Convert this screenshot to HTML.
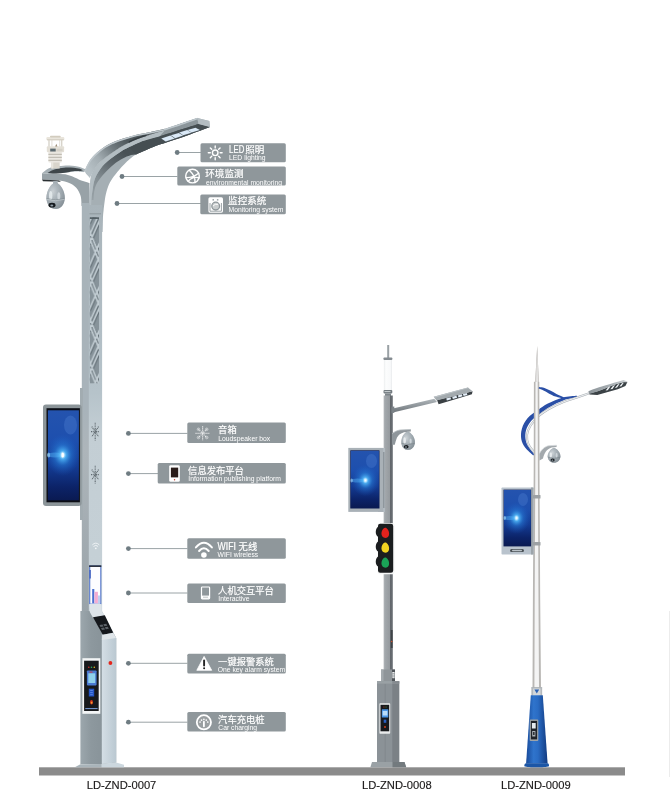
<!DOCTYPE html>
<html lang="zh">
<head>
<meta charset="utf-8">
<title>LD-ZND smart poles</title>
<style>
html,body{margin:0;padding:0;background:#fff}
#stage{position:relative;width:670px;height:800px;overflow:hidden;background:#fff}
svg{position:absolute;left:0;top:0;display:block}
svg{will-change:transform}
text{font-family:"Liberation Sans","Noto Sans CJK SC",sans-serif}
.t{font-size:9.3px;fill:#fff;stroke:#fff;stroke-width:0.2}
.s{font-size:6.77px;fill:#fff}
.m{font-size:11.2px;fill:#1c1a1a;stroke:#1c1a1a;stroke-width:0.15}
.bx{fill:#8f979b}
.ln{stroke:#9aa3a6;stroke-width:1;fill:none}
.dt{fill:#6f7c82}
</style>
</head>
<body>
<div id="stage">
<svg width="670" height="800" viewBox="0 0 670 800">
<defs>
<linearGradient id="scrv" x1="0" y1="0" x2="0" y2="1">
<stop offset="0" stop-color="#2453ae"/><stop offset="0.35" stop-color="#1d4fae"/><stop offset="0.62" stop-color="#143c94"/><stop offset="0.85" stop-color="#0c2368"/><stop offset="1" stop-color="#0a1a52"/>
</linearGradient>
<radialGradient id="glow" cx="0.5" cy="0.5" r="0.5">
<stop offset="0" stop-color="#ffffff"/><stop offset="0.09" stop-color="#bfe8ff"/><stop offset="0.2" stop-color="#4fb4f6" stop-opacity="0.9"/><stop offset="0.5" stop-color="#2a86e0" stop-opacity="0.45"/><stop offset="1" stop-color="#1c5ec4" stop-opacity="0"/>
</radialGradient>
</defs>

<!-- GROUND -->
<g id="ground">
<rect x="39" y="767.3" width="586" height="8.2" fill="#8b8b8b"/>
<rect x="669" y="611" width="1" height="166" fill="#ececec"/>
</g>

<g id="pole1">
<defs>
<linearGradient id="p1bd" x1="90" y1="170" x2="128" y2="142" gradientUnits="userSpaceOnUse">
<stop offset="0" stop-color="#b6c0c5"/><stop offset="0.3" stop-color="#a3adb2"/><stop offset="0.65" stop-color="#717b80"/><stop offset="1" stop-color="#4f585c"/>
</linearGradient>
<linearGradient id="p1dw" x1="93" y1="200" x2="128" y2="155" gradientUnits="userSpaceOnUse">
<stop offset="0" stop-color="#98a2a7"/><stop offset="0.35" stop-color="#838d92"/><stop offset="0.7" stop-color="#5d666b"/><stop offset="1" stop-color="#485155"/>
</linearGradient>
<radialGradient id="dome" cx="35%" cy="35%" r="75%">
<stop offset="0" stop-color="#f2f5f7"/><stop offset="0.3" stop-color="#c3cbd0"/><stop offset="0.7" stop-color="#98a2a8"/><stop offset="1" stop-color="#727c83"/>
</radialGradient>
</defs>
<path d="M42,173.3 L53.7,173.8 L65.2,174.3 C69,175 72,176.3 74.6,177.5 C78,179 81,180.5 82.9,181.1 L89.5,183 L89.5,206 L81.5,206 C81.5,199 81,196 79.8,193.7 C78.5,190.5 77,188 74.6,186.3 C72,184 70,183 67.3,182.2 C64,181.2 61,180.7 58.9,180.6 L42,179.6 Z" fill="#98a2a7"/>
<path d="M42,179.4 L58.9,180.4 L61,181.8 L43,181.3 Z" fill="#2b3033"/>
<path d="M42,173.3 C44,171.5 46,169.8 48.4,168.6 C52,167 55,166.3 58.9,166 C62,165.7 66,165.3 69.3,165.4 C73,165.6 77,166.2 79.8,167 L86,169.4 L84,172.2 L79.8,171.7 C76,171.5 72,171.7 69.3,172.2 C64,173 58,173.5 53.7,173.8 Z" fill="#a7b1b6"/>
<path d="M47.5,172.9 C52,169.6 58,168 64.1,167.7 C70,167.4 75,167.9 79.8,168.8 L83,170.2 L79.8,171.2 C75,170.9 72,171.4 69.3,171.9 C63,172.9 57,173.5 52.6,173.6 Z" fill="#3e464a"/>
<path d="M89.3,205 C89.3,203.3 89.4,198.2 89.5,195 C89.6,191.8 89.7,189.4 90,186 C90.3,182.6 90.3,178 91.6,174.4 C92.9,170.8 95.4,167.5 97.9,164.5 C100.5,161.5 103.9,158.9 106.9,156.5 C109.9,154.1 112.8,152.1 115.8,150.2 C118.8,148.2 121.8,146.4 124.8,144.8 C127.8,143.2 129.9,142 133.7,140.4 C137.5,138.8 142.6,137.1 147.8,135.4 C153,133.7 162.1,131.1 165,130.2 L179.4,124.1 L197.3,117.9 L209.3,121.1 L209.9,127.1 L204.5,128.9 C200.4,130.4 187.5,135.3 180,137.9 C172.5,140.5 165.1,142.6 159.7,144.5 C154.3,146.4 151.8,147.6 147.8,149.3 C143.8,151 139.7,152.1 135.8,154.6 C131.9,157.1 127.7,160.9 124.3,164.2 C120.9,167.5 117.8,171.3 115.4,174.4 C113,177.5 111.5,179.2 109.9,182.5 C108.3,185.8 106.8,189.9 105.8,194.5 C104.8,199.1 104.1,206.4 103.6,210.2 C103.1,213.9 103.1,215.9 103,217 L89.3,217 Z" fill="#a5afb4"/>
<path d="M147.8,135.4 L165,130.2 L165,128.8 L197.3,117.9 L198.5,124.1 C194.6,125.3 181.5,129.5 175,131.5 C168.5,133.5 164.2,134.9 159.7,136.2 C155.2,137.5 149.8,138.9 147.8,139.5 Z" fill="#8b959a"/>
<path d="M91.4,200 C91.6,198.3 92,193.7 92.6,190 C93.2,186.3 93.6,181.9 95.2,178 C96.8,174.1 99.7,169.6 102.4,166.3 C105.1,163 108.3,160.7 111.3,158.3 C114.3,155.9 117.3,153.9 120.3,152 C123.3,150.1 125.9,148.7 129.2,147.1 C132.5,145.5 136.9,143.5 140,142.2 C143.1,140.9 144.5,140.5 147.8,139.5 C151.1,138.5 155.2,137.5 159.7,136.2 C164.2,134.9 168.5,133.5 175,131.5 C181.5,129.5 194.6,125.3 198.5,124.1 L209.9,127.1 L204.5,128.9 C200.4,130.4 187.5,135.3 180,137.9 C172.5,140.5 165.1,142.6 159.7,144.5 C154.3,146.4 151.8,147.6 147.8,149.3 C143.8,151 137.8,153.7 135.8,154.6 L131,154.9 C130,155.3 127.3,156.1 124.8,157.4 C122.3,158.7 118.8,160.6 115.8,162.8 C112.8,165 109.9,167.7 106.9,170.8 C103.9,173.9 100,178.4 97.9,181.6 C95.8,184.8 95.2,186.9 94.5,190 C93.8,193.1 93.7,198.3 93.5,200 Z" fill="url(#p1dw)"/>
<path d="M129.2,147.1 C131,146.3 136.9,143.5 140,142.2 C143.1,140.9 144.5,140.5 147.8,139.5 C151.1,138.5 155.2,137.5 159.7,136.2 C164.2,134.9 168.5,133.5 175,131.5 C181.5,129.5 194.6,125.3 198.5,124.1 L209.9,127.1 L204.5,128.9 C200.4,130.4 187.5,135.3 180,137.9 C172.5,140.5 165.1,142.6 159.7,144.5 C154.3,146.4 151.8,147.6 147.8,149.3 C143.8,151 137.8,153.7 135.8,154.6 L129.2,147.1 Z" fill="#454e52"/>
<path d="M89.3,205 C89.3,203.3 89.4,198.2 89.5,195 C89.6,191.8 89.7,189.4 90,186 C90.3,182.6 90.3,178 91.6,174.4 C92.9,170.8 95.4,167.5 97.9,164.5 C100.5,161.5 103.9,158.9 106.9,156.5 C109.9,154.1 112.8,152.1 115.8,150.2 C118.8,148.2 121.8,146.4 124.8,144.8 C127.8,143.2 129.9,142 133.7,140.4 C137.5,138.8 142.6,137.1 147.8,135.4 C153,133.7 162.1,131.1 165,130.2 L159.7,136.2 C157.7,136.8 151.1,138.5 147.8,139.5 C144.5,140.5 143.1,140.9 140,142.2 C136.9,143.5 132.5,145.5 129.2,147.1 C125.9,148.7 123.3,150.1 120.3,152 C117.3,153.9 114.3,155.9 111.3,158.3 C108.3,160.7 105.1,163 102.4,166.3 C99.7,169.6 96.8,174.1 95.2,178 C93.6,181.9 93.2,186.3 92.6,190 C92,193.7 91.6,196.2 91.4,200 C91.2,203.8 91.2,210.8 91.2,213 Z" fill="#b3bdc2"/>
<path d="M84.5,170.8 C85.5,168.9 88.2,162.6 90.7,159.2 C93.2,155.8 96.3,152.9 99.7,150.2 C103.1,147.5 107.1,145 111.3,143 C115.5,141 120.7,139.4 124.8,138.1 C128.9,136.8 132,135.8 135.8,134.9 C139.6,134 142.9,133.6 147.8,132.6 C152.7,131.6 162.1,129.4 165,128.8 L165,130.2 C162.1,131.1 153,133.7 147.8,135.4 C142.6,137.1 137.5,138.8 133.7,140.4 C129.9,142 127.8,143.2 124.8,144.8 C121.8,146.4 118.8,148.2 115.8,150.2 C112.8,152.1 109.9,154.1 106.9,156.5 C103.9,158.9 100.5,161.5 97.9,164.5 C95.4,167.5 92.6,172.8 91.6,174.4 L89.5,178.5 L86,174 Z" fill="url(#p1bd)"/>
<path d="M84.9,171.4 C85.9,169.5 88.6,163.2 91.1,159.8 C93.6,156.4 96.7,153.5 100.1,150.8 C103.5,148.1 107.5,145.6 111.7,143.6 C115.9,141.6 121.1,140 125.2,138.7 C129.3,137.3 132.4,136.4 136.2,135.5 C140,134.6 143.3,134.2 148.2,133.2 C153.1,132.2 160.1,130.8 165.4,129.4 C170.7,128 174.4,126.5 179.8,124.7 C185.2,122.9 194.7,119.5 197.7,118.5" fill="none" stroke="#bec7cc" stroke-width="1.5"/>
<path d="M128.7,141.3 C133,139 138,137 146.2,134.7 L146.5,136 C140,138 134,140.3 128.7,143 Z" fill="#343c40"/>
<path d="M197.3,117.9 L209.3,121.1 L209.9,127.1 L198.5,124.1 Z" fill="#b4bdc2"/>
<g fill="#d9e8f6">
<path d="M161.3,138.4 L170.4,135.6 L174.8,138.4 L165.7,141.4 Z"/>
<path d="M170.8,135.3 L178.8,132.9 L183.2,135.4 L175.2,138.3 Z"/>
<path d="M179.2,132.6 L187.2,130.1 L191.5,132.7 L183.2,135.3 Z"/>
<path d="M187.5,130 L195.5,127.7 L199.9,130.1 L191.6,132.6 Z"/>
</g>
<path d="M66.2,173.8 C71,172.3 76,171.6 79.8,171.7 L84,172.2 C86.5,174 88.5,176 90.2,178.5 L89.5,182.8 C85,180.8 82,178.7 79.8,177.5 C77,176.2 75,175.6 72.5,175.4 C70,174.7 68,174.2 66.2,173.8 Z" fill="#fff"/>
<!-- pole shaft -->
<defs>
<linearGradient id="p1L" x1="0" y1="205" x2="0" y2="613" gradientUnits="userSpaceOnUse"><stop offset="0" stop-color="#a8b3b9"/><stop offset="0.5" stop-color="#a8b3ba"/><stop offset="0.6" stop-color="#adb5ba"/><stop offset="1" stop-color="#99a3a9"/></linearGradient>
<linearGradient id="p1R" x1="0" y1="205" x2="0" y2="613" gradientUnits="userSpaceOnUse"><stop offset="0" stop-color="#a9b4ba"/><stop offset="0.3" stop-color="#b2bec5"/><stop offset="0.46" stop-color="#b6c3ca"/><stop offset="0.56" stop-color="#c3ced4"/><stop offset="1" stop-color="#c6d1d7"/></linearGradient>
</defs>
<rect x="81.8" y="203" width="7.5" height="410" fill="url(#p1L)"/>
<rect x="88.8" y="205" width="13.3" height="408" fill="url(#p1R)"/>
<path d="M103,217 L102,217 L102,232 L102.6,232 Z" fill="#a9b4ba"/>
<rect x="89.5" y="213.3" width="11.5" height="1" fill="#8d979c"/>

<!-- lattice -->
<defs>
<pattern id="lat" x="89.8" y="217.3" width="9.2" height="43.5" patternUnits="userSpaceOnUse">
<rect width="9.2" height="43.5" fill="#87939a"/>
<g stroke="#5f6b72" stroke-width="1.3" fill="none">
<path d="M11,-90.7 L0.4,-67.2 M11,-83.2 L0.4,-59.7 M11,-60.7 L0.4,-37.2 M0.4,-73.7 L11,-48.2 M0.4,-66.2 L11,-40.7 M11,-47.2 L0.4,-23.7 M11,-39.7 L0.4,-16.2 M11,-17.2 L0.4,6.3 M0.4,-30.2 L11,-4.7 M0.4,-22.7 L11,2.8 M11,-3.7 L0.4,19.8 M11,3.8 L0.4,27.3 M11,26.3 L0.4,49.8 M0.4,13.3 L11,38.8 M0.4,20.8 L11,46.3 M11,39.8 L0.4,63.3 M11,47.3 L0.4,70.8 M11,69.8 L0.4,93.3 M0.4,56.8 L11,82.3 M0.4,64.3 L11,89.8"/>
</g>
<g stroke="#c1ccd2" stroke-width="1.7" fill="none">
<path d="M9.9,-91.5 L-0.7,-68 M9.9,-84 L-0.7,-60.5 M9.9,-61.5 L-0.7,-38 M-0.7,-74.5 L9.9,-49 M-0.7,-67 L9.9,-41.5 M9.9,-48 L-0.7,-24.5 M9.9,-40.5 L-0.7,-17 M9.9,-18 L-0.7,5.5 M-0.7,-31 L9.9,-5.5 M-0.7,-23.5 L9.9,2 M9.9,-4.5 L-0.7,19 M9.9,3 L-0.7,26.5 M9.9,25.5 L-0.7,49 M-0.7,12.5 L9.9,38 M-0.7,20 L9.9,45.5 M9.9,39 L-0.7,62.5 M9.9,46.5 L-0.7,70 M9.9,69 L-0.7,92.5 M-0.7,56 L9.9,81.5 M-0.7,63.5 L9.9,89"/>
</g>
</pattern>
</defs>
<rect x="89.8" y="217.3" width="9.2" height="166" fill="url(#lat)"/>
<rect x="89.8" y="217.3" width="9.2" height="1.6" fill="#4f5a60"/>


<!-- screen bracket + screen -->
<defs>
</defs>
<rect x="80" y="388" width="3" height="132" fill="#a2acb1"/>
<rect x="43" y="404.4" width="38.6" height="101.6" rx="3" fill="#8c9599"/>
<rect x="46.5" y="408.2" width="33.4" height="94.1" fill="#0b0d14"/>
<rect x="47.9" y="410.3" width="31" height="90" fill="url(#scrv)"/>
<ellipse cx="70.5" cy="425" rx="6.5" ry="9.5" fill="#5a8cdc" fill-opacity="0.3"/>
<ellipse cx="62.7" cy="455" rx="17" ry="21" fill="url(#glow)"/>
<ellipse cx="55" cy="455" rx="8" ry="2.4" fill="#5cc0ff" fill-opacity="0.38"/>
<ellipse cx="48.6" cy="455" rx="1.5" ry="2.5" fill="#a8e0ff" fill-opacity="0.6"/>
<ellipse cx="62.7" cy="455" rx="1.3" ry="2.6" fill="#fff"/>

<!-- speaker dots, wifi mark -->
<g stroke="#4f585e" stroke-opacity="0.85" fill="none" stroke-dasharray="1 0.7" stroke-width="1.1">
<path d="M95.2,422.8 V440.4 M91,431.6 H99.4 M91.8,426.6 L98.6,436.6 M98.6,426.6 L91.8,436.6"/>
<path d="M95.2,465.8 V483.4 M91,474.6 H99.4 M91.8,469.6 L98.6,479.6 M98.6,469.6 L91.8,479.6"/>
</g>
<g stroke="#f2f5f7" stroke-width="0.9" fill="none" stroke-linecap="round">
<path d="M92.6,544.6 Q95.8,541.4 99,544.6 M93.8,546.2 Q95.8,544.2 97.8,546.2"/>
</g>
<circle cx="95.8" cy="548.3" r="0.9" fill="#f2f5f7"/>

<!-- interactive screen -->
<rect x="89.1" y="565.4" width="12.2" height="39.2" fill="#5f7fd0"/>
<rect x="90.3" y="566.6" width="9.9" height="37" fill="#fdfdff"/>
<rect x="89.1" y="565.4" width="12.2" height="1.5" fill="#22262e"/>
<rect x="89.4" y="570" width="1.4" height="8.5" fill="#4060c0"/>
<rect x="92.2" y="589" width="2.1" height="14.3" fill="#4a70d0"/>
<rect x="94.5" y="591.8" width="3.4" height="11.5" fill="#f2acd2"/>
<rect x="98.1" y="595.5" width="1.8" height="7.8" fill="#b9c9f0"/>

<!-- lower body -->
<defs>
<linearGradient id="p1lf" x1="80.4" y1="0" x2="101.8" y2="0" gradientUnits="userSpaceOnUse"><stop offset="0" stop-color="#9ca7ad"/><stop offset="0.5" stop-color="#8d989e"/><stop offset="1" stop-color="#89949a"/></linearGradient>
<linearGradient id="p1rf" x1="101.8" y1="0" x2="116.2" y2="0" gradientUnits="userSpaceOnUse"><stop offset="0" stop-color="#d4dee5"/><stop offset="1" stop-color="#bac8d1"/></linearGradient>
</defs>
<path d="M80.4,611 L101.8,611 L116.2,638 L116.2,762.5 L101.8,764 L80.4,764 Z" fill="url(#p1lf)"/>
<path d="M101.8,634 L116.2,638 L116.2,762.5 L101.8,764 Z" fill="url(#p1rf)"/>
<path d="M89.2,604 L101.6,604 L101.8,611 L104.8,615.5 L93,617.8 L89.8,612 Z" fill="#dde4e9"/>
<!-- keyboard -->
<path d="M93,617.3 L104.8,615.2 L113.2,632.8 L102.8,634.8 Z" fill="#15181c"/>
<path d="M99.5,625 l3,-0.5 l1,2 l-3,0.5 z M103.3,624.3 l3,-0.5 l1,2 l-3,0.5 z M101,628 l3,-0.5 l1,2 l-3,0.5 z M104.8,627.3 l3,-0.5 l1,2 l-3,0.5 z" fill="#5a6066"/>
<path d="M102.8,634.8 L113.2,632.8 L116.2,638 L101.8,640 Z" fill="#dfe5e9"/>
<!-- red button -->
<circle cx="110.4" cy="663" r="1.9" fill="#e3261c"/>
<!-- charger panel -->
<rect x="82.4" y="658.2" width="17.9" height="55.6" fill="#f3f5f6"/>
<rect x="84.1" y="660.7" width="14.6" height="50.3" fill="#17191c"/>
<circle cx="88.8" cy="667.3" r="0.8" fill="#d8302a"/><circle cx="91.5" cy="667.3" r="0.8" fill="#2fae5e"/><circle cx="94.3" cy="667.3" r="0.8" fill="#e8b820"/>
<rect x="86.9" y="670.5" width="9.7" height="14.9" rx="0.8" fill="#4a7ad2"/>
<rect x="88.3" y="673.3" width="6.9" height="9.7" fill="#8fd0ea"/>
<rect x="89.5" y="671.6" width="3" height="1" fill="#d8403a"/>
<rect x="88.8" y="688.7" width="5.4" height="7.8" fill="#2354c4"/>
<path d="M90.2,690.5 h2.6 M90.2,692.6 h2.6 M90.2,694.7 h2.6" stroke="#6d9cf0" stroke-width="0.7"/>
<ellipse cx="91.5" cy="702.3" rx="1.5" ry="2.3" fill="#d63a1e"/>
<ellipse cx="91.7" cy="702.8" rx="0.6" ry="1" fill="#f0c030"/>
<rect x="85.3" y="708" width="12.3" height="1.1" fill="#6f8fc4"/>
<!-- base plate -->
<path d="M74.8,767.3 L80.4,764.3 L101.8,764 L101.8,767.3 Z" fill="#a9b4ba"/>
<path d="M101.8,764 L116.2,762.5 L124,764.8 L124,767.3 L101.8,767.3 Z" fill="#ccd7de"/>

<!-- weather sensor -->
<g id="sensor">
<rect x="51.3" y="162" width="8.4" height="6.5" fill="#d9d5cc"/>
<rect x="51.3" y="162" width="2" height="6.5" fill="#e9e6df"/>
<rect x="48.4" y="151.8" width="13.4" height="10.8" rx="0.8" fill="#ebe8e2"/>
<path d="M48.4,154.4 h13.4 M48.4,157.4 h13.4 M48.4,160.4 h13.4" stroke="#c2beb5" stroke-width="1.1"/>
<rect x="46.8" y="146.3" width="17.3" height="5.9" rx="1" fill="#e3dfd6"/>
<rect x="50.2" y="148.6" width="5.5" height="2.9" fill="#5c6a70"/>
<rect x="56.5" y="148.8" width="6" height="2.4" fill="#d5d1c8"/>
<path d="M49,140 v6.5 M61.7,140 v6.5" stroke="#d8d4cb" stroke-width="1.4"/>
<path d="M51.9,140 v6.5 M59.7,140 v6.5" stroke="#e4e1da" stroke-width="1.1"/>
<path d="M55.2,146.4 l1.1,-2.6 l1.1,2.6 z" fill="#9a8a74"/>
<rect x="46.3" y="137" width="18.1" height="3.3" rx="1.4" fill="#e9e5dc"/>
<path d="M47,139.8 h16.8" stroke="#c9c4b8" stroke-width="0.8"/>
<rect x="50" y="135.7" width="10.7" height="1.8" rx="0.8" fill="#d2ccbe"/>
</g>

<!-- camera -->
<g id="cam1">
<rect x="53.1" y="181" width="4.6" height="3" fill="#a5afb5"/>
<path d="M55.6,182.2 C60,183.5 64.8,190.5 64.8,197.5 C64.8,204.5 60.6,209 55.6,209 C50.6,209 46.4,204.5 46.4,197.5 C46.4,190.5 51.2,183.5 55.6,182.2 Z" fill="#9aa4ab"/>
<path d="M55.6,182.2 C60,183.5 64.8,190.5 64.8,197.5 C64.8,204.5 60.6,209 55.6,209 C50.6,209 46.4,204.5 46.4,197.5 C46.4,190.5 51.2,183.5 55.6,182.2 Z" fill="url(#dome)" fill-opacity="0.55"/>
<ellipse cx="50.7" cy="195.5" rx="1.7" ry="4.5" fill="#e8edf0" fill-opacity="0.85"/>
<ellipse cx="58.8" cy="196" rx="1.5" ry="3.8" fill="#dfe5e9" fill-opacity="0.7"/>
<path d="M46.5,198.6 Q55.6,201.4 64.7,198.6" stroke="#7a848a" stroke-width="0.6" fill="none"/>
<path d="M46.6,199.3 Q55.6,202.1 64.6,199.3" stroke="#d5dce0" stroke-width="0.5" fill="none"/>
<ellipse cx="52" cy="205.2" rx="3.5" ry="2.4" fill="#15191d"/>
<ellipse cx="51.8" cy="205.4" rx="1.5" ry="1" fill="#8f9ca6"/>
</g>

</g>

<!-- POLE2 -->
<g id="pole2">
<defs>
<linearGradient id="p2g" x1="0" y1="0" x2="1" y2="0">
<stop offset="0" stop-color="#b8bcbf"/><stop offset="0.14" stop-color="#a3a8ac"/><stop offset="0.68" stop-color="#959a9e"/><stop offset="0.74" stop-color="#62676c"/><stop offset="1" stop-color="#6c7176"/>
</linearGradient>
<linearGradient id="p2tube" x1="0" y1="0" x2="1" y2="0">
<stop offset="0" stop-color="#eceeef"/><stop offset="0.25" stop-color="#fcfdfd"/><stop offset="0.8" stop-color="#f8f9fa"/><stop offset="1" stop-color="#e8eaec"/>
</linearGradient>
<linearGradient id="p2arm" x1="0" y1="0" x2="0" y2="1">
<stop offset="0" stop-color="#b0b7bb"/><stop offset="0.5" stop-color="#8f969b"/><stop offset="1" stop-color="#6c7378"/>
</linearGradient>
</defs>
<!-- antenna + tube -->
<rect x="387.2" y="345" width="2" height="13" fill="#9aa1a5"/>
<rect x="383.5" y="357.4" width="8.8" height="2.7" rx="0.8" fill="#858c91"/>
<rect x="383.9" y="360" width="8.1" height="30.2" fill="url(#p2tube)"/>
<rect x="383.5" y="390" width="8.8" height="3.6" rx="1" fill="#727a7f"/>
<rect x="384.5" y="391" width="6" height="1.1" fill="#c3c9cc"/>
<rect x="385" y="393.5" width="6" height="2.5" fill="#7f868b"/>
<!-- shaft -->
<rect x="383.6" y="395.5" width="9.2" height="275" fill="url(#p2g)"/>
<!-- lamp arm -->
<path d="M391.8,408.8 L434.3,398.7 L437,402 L394,412.3 L391.8,412.9 Z" fill="url(#p2arm)"/>
<path d="M391.5,406.8 L394.3,406.5 L394.3,412.8 L391.5,413.2 Z" fill="#7b8287"/>
<!-- lamp head -->
<path d="M437,400 L472.6,391.3 L471.9,394.3 L438.6,404.3 Z" fill="#3a4044"/>
<path d="M433.7,396.8 L467.9,387.4 L472.6,391.3 L436.5,400.6 Z" fill="#a3aaae"/>
<path d="M433.7,396.8 L467.9,387.4 L468.6,388 L434.5,397.7 Z" fill="#bcc3c7"/>
<g fill="#e4eef8">
<path d="M446.2,398.4 l4.2,-1.1 l0.7,2 l-4.2,1.2 z"/>
<path d="M452.2,396.8 l4.2,-1.1 l0.7,2 l-4.2,1.2 z"/>
<path d="M457.8,395.4 l4,-1.1 l0.7,2 l-4,1.2 z"/>
<path d="M462.9,394 l3.8,-1 l0.7,1.9 l-3.8,1.1 z"/>
</g>
<!-- camera bracket -->
<path d="M392,433.7 C394.5,431.8 397,430.5 400,430 L410.8,429.5 L410.8,431.6 L404,432.2 C400.5,433.3 398.5,435 397,437.5 C396,440 395.3,442.5 394.8,444.8 L392,444.8 Z" fill="#8f969b"/>
<path d="M392,433.7 C394.5,431.8 397,430.5 400,430 L410.8,429.5" fill="none" stroke="#b7bec2" stroke-width="0.8"/>
<!-- camera -->
<path d="M407.6,431.6 C411,432.5 414.9,437.5 414.9,442 C414.9,446.8 411.6,450 407.9,450 C404.3,450 401.3,446.8 401.3,442 C401.3,437.5 404.5,432.5 407.6,431.6 Z" fill="#9aa4ab"/>
<path d="M407.6,431.6 C411,432.5 414.9,437.5 414.9,442 C414.9,446.8 411.6,450 407.9,450 C404.3,450 401.3,446.8 401.3,442 C401.3,437.5 404.5,432.5 407.6,431.6 Z" fill="url(#dome)" fill-opacity="0.6"/>
<ellipse cx="404.6" cy="440.5" rx="1.3" ry="3.2" fill="#eef2f4" fill-opacity="0.85"/>
<ellipse cx="410.6" cy="441" rx="1.1" ry="2.6" fill="#dfe5e9" fill-opacity="0.7"/>
<path d="M401.6,443.4 Q408,445.8 414.6,443.4" stroke="#727c82" stroke-width="0.5" fill="none"/>
<ellipse cx="406.2" cy="446.8" rx="2.4" ry="1.7" fill="#15191d"/>
<ellipse cx="406" cy="447" rx="1" ry="0.7" fill="#8f9ca6"/>
<!-- screen -->
<rect x="378" y="448" width="7" height="64" fill="#b2bac0"/>
<rect x="382.5" y="452" width="2" height="56" fill="#8e969c"/>
<rect x="348.3" y="447.9" width="34.7" height="64" fill="#a9b1b7"/>
<rect x="350.3" y="450.3" width="29.2" height="58.2" fill="#0b1b52"/>
<rect x="350.9" y="450.9" width="28" height="57" fill="url(#scrv)"/>
<ellipse cx="371.5" cy="461" rx="5.5" ry="7" fill="#5a8cdc" fill-opacity="0.3"/>
<ellipse cx="365.4" cy="480.3" rx="14" ry="16" fill="url(#glow)"/>
<ellipse cx="357.5" cy="480.5" rx="6.5" ry="2" fill="#5cc0ff" fill-opacity="0.38"/>
<ellipse cx="351.6" cy="480.5" rx="1.2" ry="2" fill="#a8e0ff" fill-opacity="0.6"/>
<!-- traffic light -->
<rect x="377.6" y="523" width="17" height="51.2" rx="2.8" fill="#f6f7f7"/>
<path d="M380.2,523.7 h10.8 a2.2,2.2 0 0 1 2.2,2.2 v44.6 a2.2,2.2 0 0 1 -2.2,2.2 h-10.8 a2.2,2.2 0 0 1 -2.2,-2.2 v-4 c-3,-1.5 -3,-8 0,-10 v-4.9 c-3,-1.5 -3,-8 0,-10 v-4.8 c-3,-1.5 -3,-8 0,-10 v-0.9 a2.2,2.2 0 0 1 2.2,-2.2 z" fill="#1b1d1f"/>
<path d="M386,527.8 C388.5,529.5 389.5,532.5 389,535 C388.5,537.5 386.2,538.3 384.3,537.8 C382,537.2 381,534.5 381.6,532 C382.2,529.5 384,527.3 386,527.8 Z" fill="#e3221d"/>
<path d="M386,542.6 C388.5,544.3 389.5,547.3 389,549.8 C388.5,552.3 386.2,553.1 384.3,552.6 C382,552 381,549.3 381.6,546.8 C382.2,544.3 384,542.1 386,542.6 Z" fill="#f2d321"/>
<path d="M386,557.5 C388.5,559.2 389.5,562.2 389,564.7 C388.5,567.2 386.2,568 384.3,567.5 C382,566.9 381,564.2 381.6,561.7 C382.2,559.2 384,557 386,557.5 Z" fill="#1aa257"/>
<!-- mid section + cabinet -->
<rect x="390.8" y="630" width="1.8" height="18" fill="#3f4448"/>
<circle cx="391.7" cy="641.5" r="0.7" fill="#d8502a"/>
<rect x="381" y="669.5" width="14" height="12" fill="#8f9599"/>
<rect x="381" y="669.5" width="2.5" height="12" fill="#a3a9ad"/>
<rect x="392" y="669.5" width="3" height="12" fill="#50555a"/>
<rect x="392.3" y="672" width="2.3" height="6.2" fill="#eceeef"/>
<path d="M392.3,673.6 h2.3 M392.3,675.2 h2.3 M392.3,676.8 h2.3" stroke="#6a7075" stroke-width="0.5"/>
<rect x="377" y="681.2" width="22.2" height="81" fill="#8b9297"/>
<rect x="392.3" y="681.2" width="6.9" height="81" fill="#7b8186"/>
<rect x="377" y="681.2" width="22.2" height="2.4" fill="#9aa1a5"/>
<rect x="392.3" y="681.2" width="6.9" height="2.4" fill="#858b90"/>
<rect x="384.8" y="684" width="0.6" height="78" fill="#7c8388"/>
<!-- panel -->
<rect x="379.4" y="703.3" width="10.8" height="30.4" rx="0.8" fill="#e9ebec"/>
<rect x="380.5" y="704.8" width="8.7" height="26.5" fill="#17191c"/>
<rect x="381.8" y="709.3" width="6.5" height="8.2" rx="0.5" fill="#4a96e6"/>
<rect x="382.7" y="711" width="4.7" height="4.5" fill="#b9dcf8"/>
<rect x="383.7" y="719.6" width="2.6" height="3.2" fill="#2a62c4"/>
<circle cx="385" cy="727" r="1" fill="#c9401e"/>
<circle cx="383.5" cy="707" r="0.4" fill="#e33"/><circle cx="385" cy="707" r="0.4" fill="#eb3"/><circle cx="386.5" cy="707" r="0.4" fill="#3b5"/>
<!-- base plate -->
<path d="M372,762 L404.5,762 L406.2,767.3 L370.4,767.3 Z" fill="#9aa1a5"/>
<path d="M392.5,762 L404.5,762 L406.2,767.3 L392.5,767.3 Z" fill="#737a7e"/>
</g>

<!-- POLE3 -->
<g id="pole3">
<defs>
<linearGradient id="p3g" x1="0" y1="0" x2="1" y2="0">
<stop offset="0" stop-color="#b1afac"/><stop offset="0.18" stop-color="#c4c3c1"/><stop offset="0.3" stop-color="#f2f2f2"/><stop offset="0.68" stop-color="#f5f5f5"/><stop offset="0.8" stop-color="#c2c1bf"/><stop offset="1" stop-color="#adaba8"/>
</linearGradient>
<linearGradient id="p3cone" x1="0" y1="0" x2="1" y2="0">
<stop offset="0" stop-color="#184a9a"/><stop offset="0.35" stop-color="#2f74cc"/><stop offset="0.55" stop-color="#2a6cc4"/><stop offset="1" stop-color="#123a80"/>
</linearGradient>
<linearGradient id="p3lamp" x1="588" y1="0" x2="627" y2="0" gradientUnits="userSpaceOnUse">
<stop offset="0" stop-color="#8a9297"/><stop offset="0.6" stop-color="#aab1b5"/><stop offset="1" stop-color="#cdd2d5"/>
</linearGradient>
</defs>
<path d="M576.9,395.7 C574.5,396 567.8,396.1 563,397.4 C558.1,398.7 552.1,401.4 547.9,403.5 C543.7,405.6 541.2,407.7 537.9,410.1 C534.5,412.5 530.4,415 527.7,418.1 C525.1,421.2 523,425.1 521.9,428.7 C520.8,432.2 520.8,436.1 521.3,439.3 C521.9,442.5 523.1,444.9 525.1,447.6 C527.1,450.3 531.8,454.2 533.2,455.5 L534.4,454.5 C533.3,453 529.4,448.4 527.9,445.8 C526.4,443.1 525.8,441.3 525.5,438.7 C525.2,436.1 525.2,432.9 526.1,429.9 C527,427 528.7,423.7 531.1,420.9 C533.4,418.2 537.2,415.8 540.3,413.5 C543.5,411.1 545.8,409.1 549.7,406.9 C553.6,404.7 559.3,401.8 563.8,400.2 C568.4,398.6 574.9,397.8 577.1,397.3 Z" fill="#2a4fa6"/>
<path d="M588.6,393.6 C586.7,394.2 581.2,396 577,397.4 C572.8,398.8 568.1,400.1 563.4,402 C558.7,403.9 552.8,406.7 548.8,409 C544.8,411.3 542.1,413 539.1,415.7 C536.1,418.4 532.6,422.2 530.6,425.4 C528.6,428.6 527.3,431.8 527,435 C526.7,438.2 527.4,441.9 528.6,444.8 C529.9,447.7 533.5,451.2 534.5,452.5" fill="none" stroke="#aab0b5" stroke-width="2.1"/>
<path d="M588.6,393.6 C586.7,394.2 581.2,396 577,397.4 C572.8,398.8 568.1,400.1 563.4,402 C558.7,403.9 552.8,406.7 548.8,409 C544.8,411.3 542.1,413 539.1,415.7 C536.1,418.4 532.6,422.2 530.6,425.4 C528.6,428.6 527.3,431.8 527,435 C526.7,438.2 527.4,441.9 528.6,444.8 C529.9,447.7 533.5,451.2 534.5,452.5" fill="none" stroke="#eceef0" stroke-width="1.1"/>
<path d="M537.2,345.8 L538.8,381.7 L539.3,381.7 L539.5,470 L540.2,600 L541,688 L532.5,688 L532.9,600 L533.7,470 L533.9,381.7 L535.2,381.7 Z" fill="#b9b7b4"/>
<path d="M537.1,356 L537.7,381.7 L537.9,470 L538.5,600 L539,688 L534.4,688 L534.7,600 L535.3,470 L535.5,381.7 L536.5,381.7 Z" fill="#f4f4f4"/>
<path d="M537.2,345.8 L538.8,381.7 L535.2,381.7 Z" fill="#cfcdcb"/>
<path d="M537.15,352 L537.7,381.7 L536.4,381.7 Z" fill="#f1f1f1"/>
<path d="M538.6,388.6 C539.4,388.9 541.8,389.7 543.5,390.5 C545.2,391.3 546.8,392.4 548.8,393.4 C550.8,394.4 552.9,395.6 555.5,396.5 C558.1,397.4 562.8,398.4 564.3,398.8 L564.7,397.6 C563.3,397 558.9,395.1 556.5,393.9 C554.1,392.7 552.2,391.6 550.2,390.6 C548.2,389.6 546.4,388.5 544.5,387.9 C542.6,387.3 539.9,387.2 539,387 Z" fill="#2a4fa6"/>
<path d="M589,393.4 L597.3,391.2 L604.1,388.7 L613.8,384.8 L623.5,381.9 L627.4,382 L625.4,385.9 L617.7,389.2 L607,392.2 L597.3,395.1 L589.5,394.6 Z" fill="#3b4246"/>
<path d="M588.4,391.2 C591,390.2 594,389 597,388 C600,387 602,386.4 604.1,385.8 C608,384.6 611,383.7 614,382.8 C617,381.9 620,381 623.5,380 L627.4,381.5 L627.4,382.3 L623.5,382.3 C620,383.1 617,384 613.8,385.1 C610,386.5 607,387.7 604.1,389 C601,390.1 599,390.8 597.3,391.5 L589,393.9 Z" fill="url(#p3lamp)"/>
<g fill="#f1f5f8"><path d="M605.6,390.6 l2.8,-3.6 l2,-0.6 l-2.6,3.8 z M610.3,389.3 l2.8,-3.6 l2,-0.6 l-2.6,3.8 z M614.9,388 l2.8,-3.6 l2,-0.6 l-2.6,3.8 z M619.4,386.6 l2.6,-3.3 l1.8,-0.5 l-2.4,3.5 z"/></g>
<path d="M539.4,453.5 C540.5,451.5 541.5,450 543,448.7 C545,447 547,446 548.8,445.7 L556.6,445.3 L556.6,447 L551.7,447.6 C549,448.5 547.2,449.8 545.9,451.6 C544.3,454 543.5,456.5 543,458.6 L539.5,460.5 Z" fill="#a3a9ad"/>
<path d="M539.4,453.5 C540.5,451.5 541.5,450 543,448.7 C545,447 547,446 548.8,445.7 L556.6,445.3" fill="none" stroke="#d5d9dc" stroke-width="0.8"/>
<path d="M553.9,447.7 C557,448.5 560.4,452.5 560.4,456.2 C560.4,460 557.4,462.8 554,462.8 C550.6,462.8 547.7,460 547.7,456.2 C547.7,452.5 551,448.5 553.9,447.7 Z" fill="#9aa4ab"/>
<path d="M553.9,447.7 C557,448.5 560.4,452.5 560.4,456.2 C560.4,460 557.4,462.8 554,462.8 C550.6,462.8 547.7,460 547.7,456.2 C547.7,452.5 551,448.5 553.9,447.7 Z" fill="url(#dome)" fill-opacity="0.6"/>
<ellipse cx="550.8" cy="455" rx="1.2" ry="2.8" fill="#eef2f4" fill-opacity="0.85"/>
<ellipse cx="556.6" cy="455.4" rx="1" ry="2.3" fill="#dfe5e9" fill-opacity="0.7"/>
<path d="M548,457.3 Q554,459.5 560.2,457.3" stroke="#727c82" stroke-width="0.5" fill="none"/>
<ellipse cx="552.6" cy="460" rx="2.1" ry="1.5" fill="#15191d"/>
<ellipse cx="552.4" cy="460.2" rx="0.9" ry="0.6" fill="#8f9ca6"/>
<rect x="501.5" y="487.5" width="32" height="67" rx="0.8" fill="#b9c3cd"/>
<rect x="531" y="487.5" width="2.5" height="67" fill="#9ca4aa"/>
<rect x="503.5" y="489.6" width="27.6" height="56.8" fill="#0b1b52"/>
<rect x="504" y="490" width="26.8" height="56" fill="url(#scrv)"/>
<ellipse cx="523" cy="499.5" rx="5" ry="6.5" fill="#5a8cdc" fill-opacity="0.3"/>
<ellipse cx="516.5" cy="518" rx="13.5" ry="16" fill="url(#glow)"/>
<ellipse cx="509.5" cy="518" rx="6" ry="2" fill="#5cc0ff" fill-opacity="0.38"/>
<ellipse cx="504.8" cy="518" rx="1.2" ry="2" fill="#a8e0ff" fill-opacity="0.6"/>
<rect x="510" y="549" width="14" height="3" rx="1.5" fill="#4b5257"/>
<rect x="512" y="549.8" width="10" height="1.4" rx="0.7" fill="#b9c1c7"/>
<rect x="533" y="495" width="7.5" height="3.6" rx="0.6" fill="#9da1a4"/>
<rect x="533" y="542" width="7.5" height="3.6" rx="0.6" fill="#9da1a4"/>
<rect x="531.5" y="687.3" width="10.6" height="8.2" fill="#d3d7da"/>
<rect x="531.5" y="687.3" width="10.6" height="1" fill="#a3a8ac"/>
<rect x="531.5" y="687.3" width="1.6" height="8.2" fill="#b3b8bc"/>
<rect x="540.5" y="687.3" width="1.6" height="8.2" fill="#b3b8bc"/>
<path d="M534.4,689.6 h4.8 l-2.4,3.8 z" fill="#2d62b4"/>
<path d="M530.8,695.2 L542.8,695.2 L547.6,763.5 L526.1,763.5 Z" fill="url(#p3cone)"/>
<path d="M524.3,766.2 C524.3,764 525,763.3 526.1,763.3 L547.6,763.3 C548.6,763.3 549,764 549,766.2 C545,767.6 528,767.6 524.3,766.2 Z" fill="#1c56a6"/>
<rect x="529.7" y="719.4" width="8.6" height="21.5" rx="1" fill="#9ea4a8"/>
<rect x="530.9" y="720.9" width="6.2" height="18.5" fill="#20242a"/>
<rect x="531.9" y="723" width="3.8" height="5.5" fill="#e6ebee"/>
<rect x="532.2" y="731" width="3.2" height="5.5" fill="#aab1b6"/>
<rect x="533" y="732" width="1.6" height="3" fill="#30343a"/>
</g>
<g id="labels">
<!-- 1 LED -->
<line class="ln" x1="177" y1="152.5" x2="201" y2="152.5"/><circle class="dt" cx="177.2" cy="152.5" r="2.4"/>
<rect class="bx" x="200.5" y="143.2" width="85.3" height="19.1" rx="1.5"/>
<g stroke="#fff" stroke-width="1.4" fill="none" stroke-linecap="round">
<circle cx="215.2" cy="152.8" r="2.8"/>
<path d="M215.2,147.9 v-2 M215.2,157.7 v2 M210.3,152.8 h-2 M220.1,152.8 h2 M211.74,149.34 l-1.42,-1.42 M218.66,149.34 l1.42,-1.42 M211.74,156.26 l-1.42,1.42 M218.66,156.26 l1.42,1.42"/>
</g>
<text class="t" transform="translate(229.1,153.1) scale(0.84,1.1)">LED</text>
<text class="t" style="font-size:9.55px" x="245.3" y="153">照明</text>
<text class="s" x="229.1" y="160.4">LED lighting</text>

<!-- 2 ENV -->
<line class="ln" x1="122" y1="176.5" x2="177.5" y2="176.5"/><circle class="dt" cx="122" cy="176.5" r="2.4"/>
<rect class="bx" x="177.3" y="166.5" width="108.5" height="19" rx="1.5"/>
<g stroke="#fff" stroke-width="1.4" fill="none" stroke-linecap="round">
<circle cx="192.5" cy="176.1" r="6.8"/>
<path d="M189.3,170.3 Q195.8,176.5 195,182.3 M186,177.6 Q193,177.8 198.6,173.2 M188.2,181.2 Q192.5,176 199.2,177.8"/>
</g>
<text class="t" style="font-size:9.55px" x="205.3" y="176.8">环境监测</text>
<text class="s" x="206" y="184.6">environmental monitoring</text>

<!-- 3 MON -->
<line class="ln" x1="117" y1="203.5" x2="201" y2="203.5"/><circle class="dt" cx="117" cy="203.5" r="2.4"/>
<rect class="bx" x="200.3" y="194.5" width="85.5" height="19.8" rx="1.5"/>
<rect x="208.4" y="197.3" width="14.6" height="15.4" rx="1.6" fill="#fff"/>
<path d="M210,203 V211.2 H221.4 V203" fill="none" stroke="#8f979b" stroke-width="0.9"/>
<circle cx="215.7" cy="206.1" r="3.9" fill="#c9cdce" stroke="#8f979b" stroke-width="1.3"/>
<path d="M213.2,205.8 Q215,203.4 217.6,204.2" stroke="#fff" stroke-width="1" fill="none" stroke-linecap="round"/>
<rect x="212.5" y="199.2" width="1.5" height="1.3" fill="#8f979b"/><rect x="216.9" y="199.2" width="1.5" height="1.3" fill="#8f979b"/>
<text class="t" style="font-size:9.55px" x="228.1" y="204.3">监控系统</text>
<text class="s" x="228.5" y="212.1">Monitoring system</text>

<!-- 4 SPEAKER -->
<line class="ln" x1="128.4" y1="433.4" x2="187.5" y2="433.4"/><circle class="dt" cx="128.4" cy="433.4" r="2.4"/>
<rect class="bx" x="187.3" y="422.6" width="98.5" height="20.3" rx="1.5"/>
<g stroke="#fff" stroke-opacity="0.8" fill="none" stroke-dasharray="1.1 0.9" stroke-width="1.2">
<path d="M202.6,426.3 V440.5 M195.5,433.4 H209.8 M198.1,428.9 L207.1,437.9 M207.1,428.9 L198.1,437.9"/>
</g>
<g fill="none" stroke="#fff" stroke-opacity="0.75" stroke-width="0.6">
<circle cx="198.5" cy="429.3" r="1.3"/><circle cx="206.7" cy="429.3" r="1.3"/><circle cx="198.5" cy="437.5" r="1.3"/><circle cx="206.7" cy="437.5" r="1.3"/>
</g>
<text class="t" x="218.1" y="433.4">音箱</text>
<text class="s" x="218.3" y="440.7">Loudspeaker box</text>

<!-- 5 INFO -->
<line class="ln" x1="128.4" y1="473.6" x2="158" y2="473.6"/><circle class="dt" cx="128.4" cy="473.6" r="2.4"/>
<rect class="bx" x="157.7" y="462.9" width="128.1" height="20.5" rx="1.5"/>
<rect x="169.2" y="465.2" width="10.6" height="16.6" rx="1.4" fill="#fff"/>
<rect x="170.9" y="467.6" width="7.3" height="9.8" fill="#2a1c1a"/>
<circle cx="174.55" cy="479.8" r="0.7" fill="#c0392b"/>
<text class="t" x="188.1" y="473.7">信息发布平台</text>
<text class="s" x="188.3" y="481.1">Information publishing platform</text>

<!-- 6 WIFI -->
<line class="ln" x1="128.4" y1="548.6" x2="187.5" y2="548.6"/><circle class="dt" cx="128.4" cy="548.6" r="2.4"/>
<rect class="bx" x="187.3" y="538.2" width="98.5" height="20.5" rx="1.5"/>
<g stroke="#fff" stroke-width="2" fill="none" stroke-linecap="round">
<path d="M195.9,547.4 Q203.9,538.2 211.9,547.4"/>
<path d="M199.1,551 Q203.9,545.3 208.7,551"/>
</g>
<circle cx="203.9" cy="555" r="2.8" fill="#fff"/>
<text class="t" transform="translate(217.6,549.6) scale(0.93,1.08)">WIFI</text>
<text class="t" x="238.6" y="549.5">无线</text>
<text class="s" x="217.6" y="556.9">WIFI wireless</text>

<!-- 7 INTERACTIVE -->
<line class="ln" x1="128.4" y1="593" x2="187.5" y2="593"/><circle class="dt" cx="128.4" cy="593" r="2.4"/>
<rect class="bx" x="187.3" y="583.5" width="98.5" height="19.6" rx="1.5"/>
<rect x="201.5" y="587" width="8.1" height="11.8" rx="0.8" fill="none" stroke="#fff" stroke-width="1.2"/>
<rect x="201.5" y="595.6" width="8.1" height="3.2" fill="#fff"/>
<path d="M203,597.2 h5.1" stroke="#8f979b" stroke-width="0.6"/>
<text class="t" x="218.1" y="594">人机交互平台</text>
<text class="s" x="218.3" y="600.7">Interactive</text>

<!-- 8 ALARM -->
<line class="ln" x1="128.4" y1="663.3" x2="187.5" y2="663.3"/><circle class="dt" cx="128.4" cy="663.3" r="2.4"/>
<rect class="bx" x="187.3" y="653.7" width="98.5" height="19.7" rx="1.5"/>
<path d="M204.1,656.4 L211.7,670.3 L196.8,670.3 Z" fill="#fff" stroke="#fff" stroke-width="0.8" stroke-linejoin="round"/>
<path d="M204.1,660.5 L204.1,665.6" stroke="#222" stroke-width="1.9" stroke-linecap="round"/>
<circle cx="204.1" cy="668.2" r="1" fill="#222"/>
<text class="t" x="218.1" y="664.5">一键报警系统</text>
<text class="s" x="217.8" y="671.6">One key alarm system</text>

<!-- 9 CAR -->
<line class="ln" x1="128.4" y1="722.2" x2="187.5" y2="722.2"/><circle class="dt" cx="128.4" cy="722.2" r="2.4"/>
<rect class="bx" x="187.3" y="712" width="98.5" height="19.4" rx="1.5"/>
<circle cx="203.9" cy="722.3" r="7.1" fill="#9a9fa1" stroke="#fff" stroke-width="1.8"/>
<circle cx="200.05" cy="722" r="0.85" fill="#fff"/><circle cx="201.55" cy="720.04" r="0.85" fill="#fff"/><circle cx="203.9" cy="719.3" r="0.85" fill="#fff"/><circle cx="206.25" cy="720.04" r="0.85" fill="#fff"/><circle cx="207.75" cy="722" r="0.85" fill="#fff"/>
<rect x="203" y="720.8" width="1.8" height="6.4" rx="0.9" fill="#fff"/>
<text class="t" x="218.1" y="722.5">汽车充电桩</text>
<text class="s" x="218.3" y="729.6">Car charging</text>
</g>


<!-- MODEL NAMES -->
<g id="names">
<text class="m" x="86.7" y="788.5">LD-ZND-0007</text>
<text class="m" x="362" y="788.5">LD-ZND-0008</text>
<text class="m" x="501" y="788.5">LD-ZND-0009</text>
</g>
</svg>
</div>
</body>
</html>
